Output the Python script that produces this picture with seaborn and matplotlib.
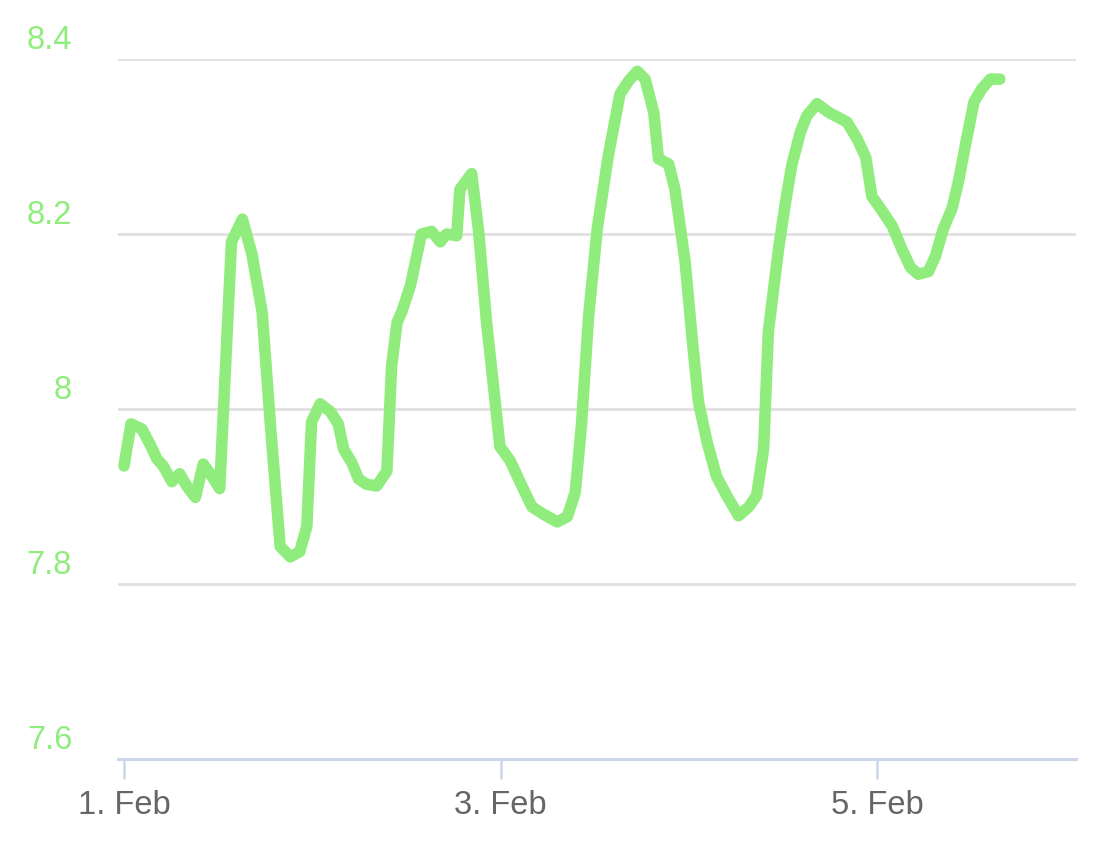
import pandas as pd
import numpy as np
import seaborn as sns
import matplotlib.pyplot as plt
import matplotlib.dates as mdates
import matplotlib.transforms as mtransforms

# hours after 1 Feb 00:00 and the measured value
hours = [0.0, 0.9, 2.3, 3.3, 4.2, 5.0, 6.1, 7.1, 8.0, 9.1, 10.1, 11.0, 12.2,
         13.7, 15.1, 16.3, 17.6, 18.7, 19.9, 21.2, 22.4, 23.3, 23.9, 25.0,
         26.3, 27.3, 28.0, 29.0, 29.9, 30.9, 32.2, 33.5, 34.1, 34.8, 35.4,
         36.5, 37.9, 39.2, 40.3, 41.1, 42.4, 42.8, 44.3, 45.2, 46.2, 47.3,
         47.9, 49.2, 50.7, 52.0, 53.4, 55.2, 56.5, 57.5, 58.3, 59.2, 60.3,
         61.7, 63.2, 64.3, 65.4, 66.4, 67.5, 68.1, 69.4, 70.2, 71.5, 72.4,
         73.2, 74.3, 75.5, 76.8, 78.3, 79.6, 80.6, 81.5, 82.1, 83.4, 84.3,
         85.1, 86.2, 87.0, 88.3, 89.8, 92.1, 93.4, 94.5, 95.3, 96.4, 97.9,
         99.1, 100.2, 101.2, 102.5, 103.4, 104.4, 105.5, 106.3, 107.2, 108.3,
         109.3, 110.4, 111.6]
values = [7.935, 7.983, 7.977, 7.960, 7.943, 7.935, 7.917, 7.926, 7.912, 7.899,
          7.937, 7.926, 7.909, 8.191, 8.217, 8.177, 8.111, 7.977, 7.843, 7.831,
          7.837, 7.866, 7.985, 8.006, 7.997, 7.983, 7.954, 7.939, 7.920, 7.914,
          7.912, 7.929, 8.049, 8.099, 8.111, 8.141, 8.200, 8.203, 8.191, 8.200,
          8.198, 8.251, 8.269, 8.202, 8.099, 8.008, 7.957, 7.941, 7.912, 7.888,
          7.880, 7.871, 7.877, 7.905, 7.983, 8.106, 8.206, 8.289, 8.360, 8.375,
          8.386, 8.377, 8.339, 8.286, 8.280, 8.251, 8.168, 8.080, 8.008, 7.962,
          7.923, 7.901, 7.878, 7.888, 7.901, 7.954, 8.088, 8.183, 8.237, 8.279,
          8.317, 8.335, 8.349, 8.339, 8.328, 8.309, 8.288, 8.243, 8.229, 8.209,
          8.183, 8.162, 8.154, 8.157, 8.175, 8.206, 8.229, 8.259, 8.301, 8.351,
          8.366, 8.377, 8.377]
y_ticks = [7.6, 7.8, 8.0, 8.2, 8.4]
y_labels = ["7.6", "7.8", "8", "8.2", "8.4"]
x_tick_days = ["2021-02-01", "2021-02-03", "2021-02-05"]

start = pd.Timestamp("2021-02-01")
df = pd.DataFrame({"time": start + pd.to_timedelta(hours, unit="h"), "value": values})

sns.set_style("white")
plt.rcParams['font.family'] = ['Liberation Sans', 'DejaVu Sans']

fig = plt.figure(figsize=(11.02, 8.45), dpi=100)
ax = fig.add_axes([118 / 1102, 1 - 760 / 845, (1076 - 118) / 1102, 700 / 845])

green = "#90ed7d"
sns.lineplot(data=df, x="time", y="value", ax=ax, color=green, linewidth=8.3,
             solid_capstyle="round", solid_joinstyle="round", zorder=3)

ax.set_ylim(7.6, 8.4)
ax.set_xlim(start - pd.Timedelta(hours=0.76), start + pd.Timedelta(hours=121.3))

ax.set_yticks(y_ticks)
ax.set_yticklabels(y_labels)
ax.set_xticks(pd.to_datetime(x_tick_days))
ax.xaxis.set_major_formatter(mdates.DateFormatter("%-d. %b"))

ax.grid(axis="y", color="#e0e0e0", linewidth=2)
ax.set_axisbelow(True)
for s in ["top", "right", "left"]:
    ax.spines[s].set_visible(False)
ax.spines["bottom"].set_color("#ccd6eb")
ax.spines["bottom"].set_linewidth(2.2)
ax.spines["bottom"].set_zorder(4)

ax.tick_params(axis="y", left=False, length=0, pad=33, labelsize=23.5, labelcolor=green)
ax.tick_params(axis="x", bottom=True, length=14.5, width=1.8, color="#ccd6eb", pad=7,
               labelsize=23.5, labelcolor="#666666")
offset = mtransforms.ScaledTranslation(0, 3 / 72, fig.dpi_scale_trans)
for lab in ax.get_yticklabels():
    lab.set_verticalalignment("bottom")
    lab.set_transform(lab.get_transform() + offset)

ax.set_xlabel("")
ax.set_ylabel("")
fig.savefig("out.png", dpi=100)
